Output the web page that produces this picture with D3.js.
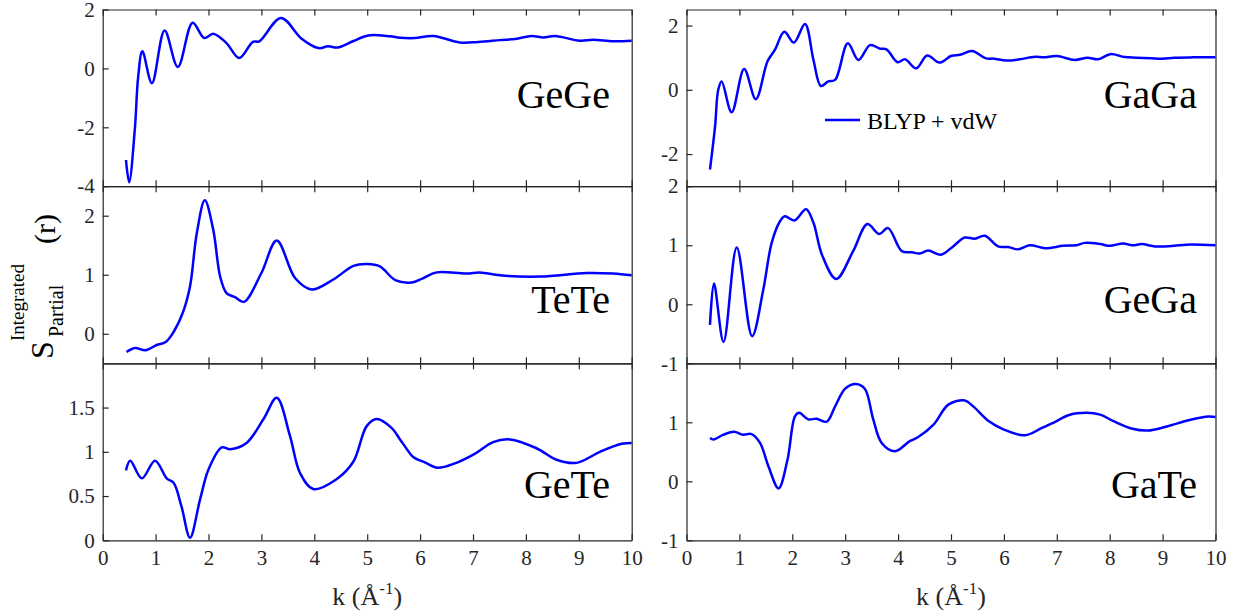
<!DOCTYPE html>
<html>
<head>
<meta charset="utf-8">
<script src="https://cdn.jsdelivr.net/npm/d3@7"></script>
<style>
    body { margin: 0; background: #fff; }
    svg { display: block; font-family: 'Liberation Serif', 'Times New Roman', serif; }
    .axis path, .axis line { stroke: #262626; stroke-width: 1.2; }
    .axis text { fill: #262626; font-size: 21px; font-family: 'Liberation Serif', 'Times New Roman', serif; }
    .chart-waves { fill: none; stroke: #0000ff; stroke-width: 2.5; stroke-linejoin: round; }
    .panel-name { font-size: 40px; fill: #000; text-anchor: end; }
    .axis-title { font-size: 26px; fill: #262626; text-anchor: middle; }
</style>
</head>
<body>
<svg id="chart" width="1239" height="613"></svg>
<script>
// k axis ticks (Å^-1)
const kTicks = [0, 1, 2, 3, 4, 5, 6, 7, 8, 9, 10];
const kDomain = [0, 10];

// GeGe
const kGeGe = [0.44, 0.50, 0.61, 0.67, 0.75, 0.93, 1.17, 1.42, 1.70, 1.92, 2.09, 2.34, 2.58, 2.84, 2.96, 3.37,
    3.76, 4.08, 4.26, 4.45, 4.74, 5.02, 5.43, 5.62, 5.90, 6.25, 6.75, 7.10, 7.51, 7.80, 8.11, 8.33, 8.55,
    9.02, 9.27, 9.65, 10.0];
const sGeGe = [-3.11, -3.87, -2.0, -0.3, 0.58, -0.5, 1.29, 0.05, 1.55, 1.03, 1.18, 0.86, 0.35, 0.90, 0.92, 1.71,
    1.01, 0.69, 0.75, 0.71, 0.93, 1.12, 1.09, 1.04, 1.03, 1.10, 0.88, 0.90, 0.96, 1.0, 1.10, 1.05, 1.10,
    0.94, 0.97, 0.92, 0.94];
const yGeGe = [-4, 2];
const ticksGeGe = [-4, -2, 0, 2];

// TeTe
const kTeTe = [0.45, 0.61, 0.81, 1.02, 1.19, 1.34, 1.52, 1.65, 1.78, 1.93, 2.09, 2.22, 2.34, 2.50, 2.67, 3.0,
    3.29, 3.64, 3.95, 4.36, 4.74, 5.0, 5.24, 5.53, 5.84, 6.05, 6.31, 6.88, 7.13, 7.51, 8.27, 9.15, 9.65, 10.0];
const sTeTe = [-0.31, -0.24, -0.28, -0.19, -0.14, 0.03, 0.37, 0.80, 1.71, 2.26, 1.76, 0.97, 0.69, 0.62, 0.54, 1.03,
    1.58, 0.94, 0.75, 0.92, 1.15, 1.18, 1.14, 0.91, 0.87, 0.94, 1.04, 1.02, 1.04, 0.99, 0.97, 1.03, 1.02, 0.99];
const yTeTe = [-0.5, 2.5];
const ticksTeTe = [0, 1, 2];

// GeTe
const kGeTe = [0.44, 0.52, 0.74, 0.99, 1.21, 1.34, 1.49, 1.65, 1.84, 2.0, 2.25, 2.41, 2.72, 3.04, 3.29, 3.54,
    3.73, 3.98, 4.42, 4.74, 4.99, 5.18, 5.46, 5.62, 5.75, 5.87, 6.09, 6.33, 6.66, 7.04, 7.38, 7.70, 8.20,
    8.58, 8.96, 9.40, 9.81, 10.0];
const sGeTe = [0.79, 0.90, 0.70, 0.90, 0.70, 0.65, 0.38, 0.03, 0.46, 0.80, 1.05, 1.03, 1.10, 1.37, 1.61, 1.18,
    0.76, 0.58, 0.69, 0.89, 1.29, 1.37, 1.27, 1.14, 1.03, 0.94, 0.88, 0.82, 0.87, 0.98, 1.11, 1.14, 1.04,
    0.91, 0.875, 1.0, 1.09, 1.10];
const yGeTe = [0, 2];
const ticksGeTe = [0, 0.5, 1, 1.5];

// GaGa
const kGaGa = [0.444, 0.54, 0.60, 0.665, 0.854, 1.09, 1.31, 1.53, 1.67, 1.85, 2.03, 2.24, 2.40, 2.54, 2.68, 2.81,
    3.05, 3.25, 3.47, 3.66, 3.78, 3.99, 4.13, 4.34, 4.55, 4.78, 5.01, 5.17, 5.40, 5.66, 5.81, 6.05, 6.30,
    6.59, 6.75, 7.0, 7.34, 7.58, 7.78, 8.01, 8.28, 8.50, 8.79, 9.0, 9.22, 9.58, 10.0];
const sGaGa = [-2.48, -1.14, 0.0, 0.26, -0.70, 0.65, -0.29, 0.88, 1.24, 1.81, 1.47, 2.05, 0.93, 0.12, 0.26, 0.31,
    1.45, 0.93, 1.39, 1.28, 1.26, 0.86, 0.95, 0.67, 1.07, 0.85, 1.06, 1.09, 1.21, 0.98, 0.97, 0.91, 0.95,
    1.03, 1.01, 1.05, 0.93, 1.0, 0.95, 1.11, 1.02, 1.0, 0.98, 0.97, 1.0, 1.01, 1.01];
const yGaGa = [-3, 2.5];
const ticksGaGa = [-2, 0, 2];

// GeGa
const kGeGa = [0.444, 0.52, 0.70, 0.95, 1.24, 1.45, 1.61, 1.77, 1.86, 2.04, 2.26, 2.40, 2.56, 2.83, 3.15, 3.42,
    3.64, 3.81, 4.07, 4.26, 4.41, 4.57, 4.81, 5.04, 5.26, 5.45, 5.64, 5.89, 6.08, 6.27, 6.49, 6.78, 7.12,
    7.37, 7.53, 7.82, 8.0, 8.25, 8.43, 8.61, 8.86, 9.22, 9.45, 10.0];
const sGeGa = [-0.35, 0.35, -0.64, 0.96, -0.54, 0.24, 1.04, 1.41, 1.49, 1.42, 1.61, 1.38, 0.84, 0.43, 0.90, 1.36,
    1.19, 1.29, 0.90, 0.88, 0.86, 0.91, 0.84, 0.98, 1.13, 1.11, 1.16, 0.98, 0.97, 0.93, 1.0, 0.95, 0.99,
    1.0, 1.04, 1.02, 0.99, 1.03, 1.0, 1.02, 0.98, 0.99, 1.01, 1.0];
const yGeGa = [-1, 2];
const ticksGeGa = [-1, 0, 1, 2];

// GaTe
const kGaTe = [0.444, 0.51, 0.70, 0.90, 1.07, 1.23, 1.39, 1.55, 1.74, 1.91, 2.05, 2.13, 2.30, 2.46, 2.65, 2.81,
    3.0, 3.20, 3.37, 3.53, 3.69, 3.94, 4.22, 4.38, 4.67, 4.95, 5.26, 5.42, 5.71, 5.99, 6.40, 6.71, 6.93,
    7.22, 7.56, 7.82, 8.07, 8.43, 8.72, 9.08, 9.51, 9.87, 10.0];
const sGaTe = [0.735, 0.71, 0.79, 0.84, 0.79, 0.80, 0.65, 0.25, -0.12, 0.37, 1.10, 1.16, 1.05, 1.06, 1.01, 1.27,
    1.57, 1.65, 1.57, 1.05, 0.65, 0.51, 0.68, 0.75, 0.96, 1.30, 1.37, 1.27, 1.02, 0.88, 0.78, 0.90, 0.99,
    1.12, 1.16, 1.13, 1.02, 0.89, 0.86, 0.93, 1.04, 1.10, 1.09];
const yGaTe = [-1, 2];
const ticksGaTe = [-1, 0, 1];

const legendLabel = 'BLYP + vdW';

// layout
const COLUMNS = [[102.7, 631.7], [686.5, 1215.5]];
const ROWS = [9.5, 186.2, 363.3, 540.3];
const NAME_RIGHT = [610, 1197];
const NAME_BASELINE = [98.5, 126.5, 134.4];
const TICK = 6;

const panels = [
    { name: 'GeGe', k: kGeGe, s: sGeGe, yDomain: yGeGe, yTicks: ticksGeGe, col: 0, row: 0 },
    { name: 'TeTe', k: kTeTe, s: sTeTe, yDomain: yTeTe, yTicks: ticksTeTe, col: 0, row: 1 },
    { name: 'GeTe', k: kGeTe, s: sGeTe, yDomain: yGeTe, yTicks: ticksGeTe, col: 0, row: 2 },
    { name: 'GaGa', k: kGaGa, s: sGaGa, yDomain: yGaGa, yTicks: ticksGaGa, col: 1, row: 0 },
    { name: 'GeGa', k: kGeGa, s: sGeGa, yDomain: yGeGa, yTicks: ticksGeGa, col: 1, row: 1 },
    { name: 'GaTe', k: kGaTe, s: sGaTe, yDomain: yGaTe, yTicks: ticksGaTe, col: 1, row: 2 },
];

class PartialPanel {
    constructor(chart, panel) {
        this.chart = chart;
        this.panel = panel;
        this.top = ROWS[panel.row];
        this.bottom = ROWS[panel.row + 1];
        const { xCoord, yCoord } = this.getScale();
        this.xCoord = xCoord;
        this.yCoord = yCoord;
    }

    getScale() {
        const { panel, top, bottom } = this;
        const xCoord = d3.scaleLinear().domain(kDomain).range(COLUMNS[panel.col]);
        const yCoord = d3.scaleLinear().domain(panel.yDomain).range([bottom, top]);
        return { xCoord, yCoord };
    }

    drawAxis() {
        const { chart, xCoord, yCoord, panel, top, bottom } = this;
        const [left, right] = COLUMNS[panel.col];
        const isBottomRow = panel.row === 2;

        const axisG = chart.append('g').attr('class', 'chart-axis');

        axisG.append('g')
            .attr('class', 'axis axis--x')
            .attr('transform', `translate(0, ${bottom})`)
            .call(d3.axisBottom(xCoord)
                .tickValues(kTicks)
                .tickSizeInner(-TICK)
                .tickSizeOuter(0)
                .tickPadding(10)
                .tickFormat(d => (isBottomRow ? String(d) : '')));

        axisG.append('g')
            .attr('class', 'axis axis--top')
            .attr('transform', `translate(0, ${top})`)
            .call(d3.axisTop(xCoord).tickValues(kTicks).tickSizeInner(-TICK).tickSizeOuter(0).tickFormat(''));

        axisG.append('g')
            .attr('class', 'axis axis--y')
            .attr('transform', `translate(${left}, 0)`)
            .call(d3.axisLeft(yCoord)
                .tickValues(panel.yTicks)
                .tickSizeInner(-TICK)
                .tickSizeOuter(0)
                .tickPadding(8)
                .tickFormat(d => String(d)));

        axisG.append('g')
            .attr('class', 'axis axis--right')
            .attr('transform', `translate(${right}, 0)`)
            .call(d3.axisRight(yCoord).tickValues([]).tickSizeOuter(0));
    }

    drawData() {
        const { chart, xCoord, yCoord, panel } = this;
        const points = panel.k.map((k, i) => [k, panel.s[i]]);

        const line = d3
            .line()
            .x(d => xCoord(d[0]))
            .y(d => yCoord(d[1]))
            .curve(d3.curveCatmullRom.alpha(0.5));

        chart.append('path')
            .attr('class', 'chart-waves')
            .attr('d', line(points));
    }

    drawName() {
        const { chart, panel, top } = this;
        chart.append('text')
            .attr('class', 'panel-name')
            .attr('x', NAME_RIGHT[panel.col])
            .attr('y', top + NAME_BASELINE[panel.row])
            .text(panel.name);
    }

    Draw() {
        this.drawData();
        this.drawAxis();
        this.drawName();
    }
}

const chart = d3.select('#chart');
panels.forEach(p => new PartialPanel(chart, p).Draw());

// x axis titles
COLUMNS.forEach(([l, r]) => {
    const t = chart.append('text')
        .attr('class', 'axis-title')
        .attr('x', (l + r) / 2)
        .attr('y', 605);
    t.append('tspan').text('k (Å');
    t.append('tspan').attr('dy', -11).attr('font-size', 17).text('-1');
    t.append('tspan').attr('dy', 11).text(')');
});

// y axis title, rotated pieces
const yTitle = [
    { text: 'S', x: 53, y: 359, size: 32 },
    { text: 'Partial', x: 63, y: 337, size: 20 },
    { text: 'Integrated', x: 24, y: 341, size: 19 },
    { text: '(r)', x: 55, y: 244, size: 30 },
];
yTitle.forEach(d => {
    chart.append('text')
        .attr('transform', `translate(${d.x}, ${d.y}) rotate(-90)`)
        .attr('font-size', d.size)
        .attr('fill', '#000')
        .text(d.text);
});

// legend inside GaGa panel
const legendG = chart.append('g').attr('class', 'legend');
legendG.append('line')
    .attr('x1', 825).attr('x2', 860)
    .attr('y1', 120).attr('y2', 120)
    .attr('stroke', '#0000ff')
    .attr('stroke-width', 2.5);
legendG.append('text')
    .attr('x', 867)
    .attr('y', 128.5)
    .attr('font-size', 24)
    .attr('fill', '#000')
    .text(legendLabel);
</script>
</body>
</html>
